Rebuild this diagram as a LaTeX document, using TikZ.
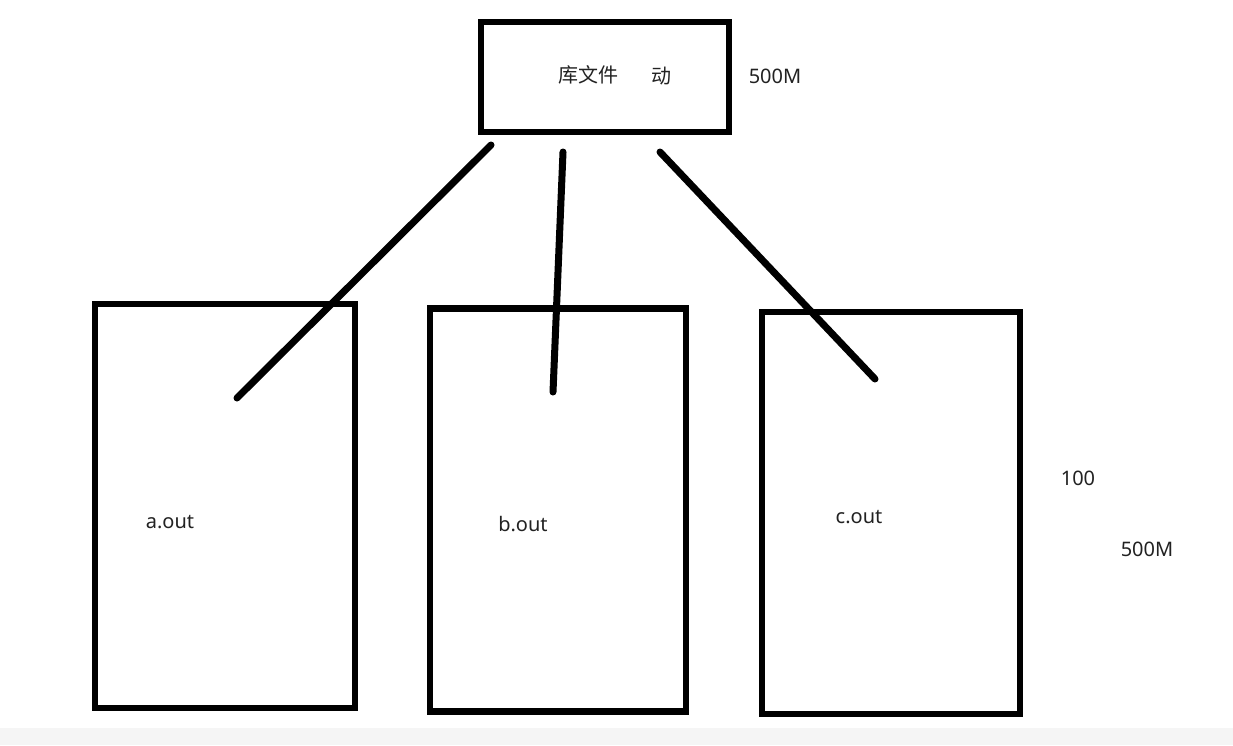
\documentclass[tikz,border=0pt]{standalone}
\usepackage{fontspec}
\setmainfont{Noto Sans}
\newfontfamily\cjk{Noto Sans CJK SC}
\definecolor{inkc}{HTML}{222222}
\begin{document}
\begin{tikzpicture}[x=1pt,y=-1pt,
  boxs/.style={draw=black,line width=6.5pt,inner sep=0pt,outer sep=0pt},
  wire/.style={draw=black,line width=7pt,line cap=round},
  lbl/.style={text=inkc,font=\fontsize{20}{22}\selectfont,inner sep=0pt},
  cjklbl/.style={text=inkc,font=\cjk\fontsize{20}{22}\selectfont,inner sep=0pt}]
\fill[white] (0,0) rectangle (1233,745);
\fill[black!4] (0,728) rectangle (1233,745);
\useasboundingbox (0,0) rectangle (1233,745);
% boxes
\node[boxs,minimum width=248pt,minimum height=110pt] (lib) at (605,77) {};
\node[boxs,minimum width=260pt,minimum height=404pt] (a) at (225,506) {};
\node[boxs,minimum width=256pt,minimum height=403pt] (b) at (558,510) {};
\node[boxs,minimum width=258pt,minimum height=402pt] (c) at (891,513) {};
% labels
\node[cjklbl] (libtxt) at (588,75) {库文件};
\node[cjklbl] (dong) at (661,76) {动};
\node[lbl] (size1) at (775,76) {500M};
\node[lbl] (atxt) at (170,522) {a.out};
\node[lbl] (btxt) at (523,524) {b.out};
\node[lbl] (ctxt) at (859,517) {c.out};
\node[lbl] (hundred) at (1078,478) {100};
\node[lbl] (size2) at (1147,549) {500M};
% connectors
\coordinate (s1) at (491,145);
\coordinate (e1) at (237,398);
\coordinate (s2) at (563,152);
\coordinate (e2) at (553,392);
\coordinate (s3) at (660,152);
\coordinate (e3) at (875,379);
\draw[wire] (s1) -- (e1);
\draw[wire] (s2) -- (e2);
\draw[wire] (s3) -- (e3);
\end{tikzpicture}
\end{document}
